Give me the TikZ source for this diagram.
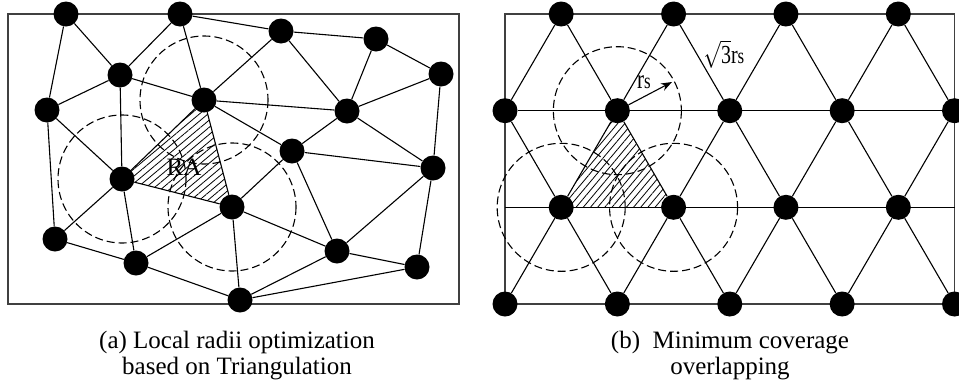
\documentclass[tikz,border=0pt]{standalone}
\usepackage{fontspec}
\setmainfont{Liberation Serif}
\usepackage{tikz}
\usetikzlibrary{arrows.meta}
\usetikzlibrary{patterns.meta}
\tikzset{every text node part/.style={align=center}}
\tikzstyle{dot} = [circle, fill=black, minimum size=25pt, inner sep=0pt]
\tikzstyle{ln} = [draw, line width=1.1pt]
\tikzstyle{frame} = [draw=black!75, line width=1.5pt]
\tikzstyle{cover} = [draw, dash pattern=on 8pt off 4pt, line width=1.1pt]
\tikzset{hatch/.style={pattern={Lines[angle=#1, distance=5.5pt, line width=0.8pt]}}}
\tikzstyle{lbl} = [inner sep=0pt, yscale=1.3, transform shape, font={\fontsize{21}{21}\selectfont}]
\tikzstyle{caption} = [font={\fontsize{25}{26}\selectfont}]
\newcommand{\sub}[1]{{\fontsize{17}{17}\selectfont #1}}

\begin{document}
\begin{tikzpicture}[x=1pt, y=-1pt]
  \useasboundingbox (0,0) rectangle (959,389);
  % (a) triangulation
  \draw[frame] (8,14) rectangle (459,304);
  \node[dot] (a1) at (66,14) {};
  \node[dot] (a2) at (180,14) {};
  \node[dot] (a3) at (281,31) {};
  \node[dot] (a4) at (376,39) {};
  \node[dot] (a5) at (441,74) {};
  \node[dot] (a6) at (120,75) {};
  \node[dot] (a7) at (47,110) {};
  \node[dot] (a8) at (204,100) {};
  \node[dot] (a9) at (347,111) {};
  \node[dot] (a10) at (292,151) {};
  \node[dot] (a11) at (433,168) {};
  \node[dot] (a12) at (122,179) {};
  \node[dot] (a13) at (232,207) {};
  \node[dot] (a14) at (55,239) {};
  \node[dot] (a15) at (136,263) {};
  \node[dot] (a16) at (337,251) {};
  \node[dot] (a17) at (417,267) {};
  \node[dot] (a18) at (240,300) {};
  \foreach \u/\v in {1/7, 1/6, 2/6, 2/8, 2/3, 3/4, 3/8, 3/9, 4/5, 4/9, 5/9, 5/11,
                     6/7, 6/8, 6/12, 7/12, 7/14, 8/9, 8/10, 8/12, 8/13, 12/13,
                     9/10, 9/11, 10/11, 10/13, 10/16, 11/16, 11/17, 12/14, 12/15,
                     13/15, 13/18, 13/16, 14/15, 15/18, 16/17, 16/18, 17/18}
    \draw[ln] (a\u) -- (a\v);
  \path[hatch=40] (a8.center) -- (a12.center) -- (a13.center) -- cycle;
  \draw[cover] (a8) circle[radius=64];
  \draw[cover] (a12) circle[radius=64];
  \draw[cover] (a13) circle[radius=64];
  \node[inner sep=0pt, font={\fontsize{25}{25}\selectfont}] (ra) at (184,167) {RA};

  % (b) triangular lattice
  \draw[frame] (505,14) rectangle (954.5,304);
  \foreach \k in {1,3,5,7} {
    \node[dot] (b-\k-1) at (505+56.19*\k, 14) {};
    \node[dot] (b-\k-3) at (505+56.19*\k, 207.3) {};
  }
  \foreach \k in {0,2,4,6,8} {
    \node[dot] (b-\k-2) at (505+56.19*\k, 110.7) {};
    \node[dot] (b-\k-4) at (505+56.19*\k, 304) {};
  }
  \coordinate (b-0-3) at (505,207.3);
  \coordinate (b-8-3) at (954.5,207.3);
  \draw[ln] (b-0-2) -- (b-8-2);
  \draw[ln] (b-0-3) -- (b-8-3);
  \foreach \k [evaluate=\k as \kl using int(\k-1), evaluate=\k as \kr using int(\k+1)] in {1,3,5,7} {
    \draw[ln] (b-\k-1) -- (b-\kl-2) (b-\k-1) -- (b-\kr-2);
    \draw[ln] (b-\k-3) -- (b-\kl-2) (b-\k-3) -- (b-\kr-2);
    \draw[ln] (b-\k-3) -- (b-\kl-4) (b-\k-3) -- (b-\kr-4);
  }
  \path[hatch=50] (b-2-2.center) -- (b-1-3.center) -- (b-3-3.center) -- cycle;
  \draw[cover] (b-2-2) circle[radius=64];
  \draw[cover] (b-1-3) circle[radius=64];
  \draw[cover] (b-3-3) circle[radius=64];
  \coordinate (rs-tip) at (672,82);
  \draw[ln, -{Stealth[length=11pt, width=8pt]}] (b-2-2) -- (rs-tip);
  \node[lbl] (rs) at (644,82) {r\sub{s}};
  \node[lbl, font={\fontsize{20}{20}\selectfont}] (side) at (724,54) {$\sqrt{\hbox{3}}$r\sub{s}};

  \node[caption] (cap-a) at (237,356) {(a) Local radii optimization\\based on Triangulation};
  \node[caption] (cap-b) at (730,356) {(b)\ \ Minimum coverage\\overlapping};
\end{tikzpicture}
\end{document}
